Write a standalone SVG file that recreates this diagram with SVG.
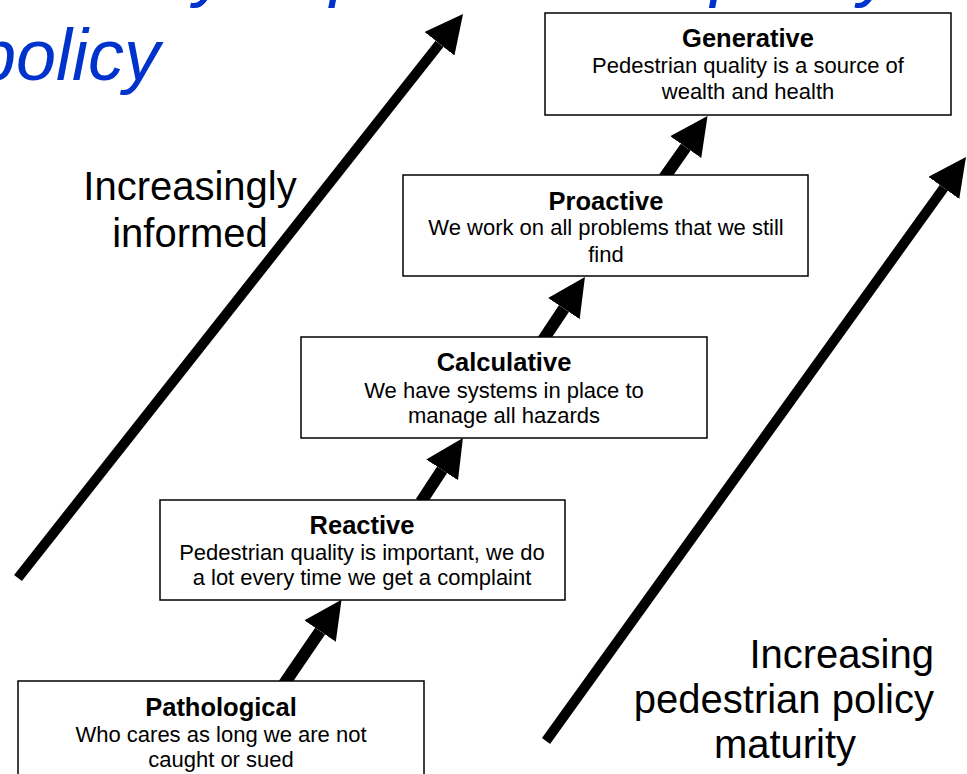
<svg xmlns="http://www.w3.org/2000/svg" width="967" height="774" viewBox="0 0 967 774">
<style>
text{font-family:"Liberation Sans",Arial,sans-serif;fill:#000}
.title{font-size:72px;font-style:italic;fill:#0033cc}
.big{font-size:40px}
.nt{font-size:25.5px;font-weight:bold;text-anchor:middle}
.nb{font-size:22px;text-anchor:middle}
.box{fill:#fff;stroke:#000;stroke-width:1.5}
.sa{stroke:#000;stroke-width:12;fill:none;marker-end:url(#head)}
.ba{stroke:#000;stroke-width:10;fill:none;marker-end:url(#head)}
</style>
<defs>
<marker id="head" markerUnits="userSpaceOnUse" viewBox="0 0 38 38" refX="0" refY="19" markerWidth="38" markerHeight="38" orient="auto">
<path d="M0,0 L38,19 L0,38 z" fill="#000"/>
</marker>
</defs>
<rect width="967" height="774" fill="#fff"/>
<g id="title">
<text class="title" x="-26" y="-7">Maturity of pedestrian quality</text>
<text class="title" x="-24" y="80">policy</text>
</g>
<g id="connectors">
<line class="ba" x1="18" y1="578" x2="439.5" y2="43.8"/>
<line class="ba" x1="546" y1="741" x2="943.8" y2="187.9"/>
<line class="sa" x1="284" y1="684" x2="320.1" y2="631.1"/>
<line class="sa" x1="421" y1="502" x2="442.1" y2="469.8"/>
<line class="sa" x1="543" y1="340" x2="563.9" y2="308.6"/>
<line class="sa" x1="664" y1="178" x2="685.7" y2="147.1"/>
</g>
<g id="label-informed">
<text class="big" text-anchor="middle" x="190" y="200">Increasingly</text>
<text class="big" text-anchor="middle" x="190" y="247">informed</text>
</g>
<g id="label-maturity">
<text class="big" text-anchor="end" x="934" y="668">Increasing</text>
<text class="big" text-anchor="end" x="934" y="713">pedestrian policy</text>
<text class="big" text-anchor="middle" x="785" y="758">maturity</text>
</g>
<g id="generative">
<rect class="box" x="545" y="13" width="406" height="102"/>
<text class="nt" x="748" y="47">Generative</text>
<text class="nb" x="748" y="73">Pedestrian quality is a source of</text>
<text class="nb" x="748" y="99">wealth and health</text>
</g>
<g id="proactive">
<rect class="box" x="403" y="175" width="405" height="101"/>
<text class="nt" x="606" y="210">Proactive</text>
<text class="nb" x="606" y="235">We work on all problems that we still</text>
<text class="nb" x="606" y="262">find</text>
</g>
<g id="calculative">
<rect class="box" x="301" y="337" width="406" height="101"/>
<text class="nt" x="504" y="371">Calculative</text>
<text class="nb" x="504" y="398">We have systems in place to</text>
<text class="nb" x="504" y="423">manage all hazards</text>
</g>
<g id="reactive">
<rect class="box" x="160" y="500" width="405" height="100"/>
<text class="nt" x="362" y="534">Reactive</text>
<text class="nb" x="362" y="560">Pedestrian quality is important, we do</text>
<text class="nb" x="362" y="585">a lot every time we get a complaint</text>
</g>
<g id="pathological">
<rect class="box" x="18" y="681" width="406" height="110"/>
<text class="nt" x="221" y="716">Pathological</text>
<text class="nb" x="221" y="742">Who cares as long we are not</text>
<text class="nb" x="221" y="767">caught or sued</text>
</g>
</svg>
